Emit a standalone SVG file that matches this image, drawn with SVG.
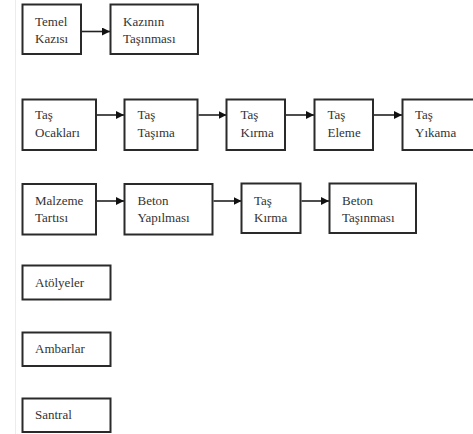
<svg xmlns="http://www.w3.org/2000/svg" width="473" height="434" viewBox="0 0 473 434">
<style>
.b{fill:#fff;stroke:#2a2a2a;stroke-width:2}
.t{font-family:'Liberation Serif','Times New Roman',serif;font-size:13px;fill:#333}
.c{stroke:#222;stroke-width:1.6;fill:none}
</style>
<defs>
<marker id="ah" markerWidth="8" markerHeight="8" refX="8" refY="4" orient="auto" markerUnits="userSpaceOnUse">
<path d="M0,0 L8,4 L0,8 Z" fill="#111"/>
</marker>
</defs>
<rect width="473" height="434" fill="#fff"/>
<line x1="15.5" y1="0" x2="15.5" y2="434" stroke="#ececec" stroke-width="1"/>
<g id="connectors">
<line class="c" x1="82" y1="31.5" x2="110" y2="31.5" marker-end="url(#ah)"/>
<line class="c" x1="97" y1="115" x2="124" y2="115" marker-end="url(#ah)"/>
<line class="c" x1="198.5" y1="115" x2="226.5" y2="115" marker-end="url(#ah)"/>
<line class="c" x1="286" y1="115" x2="314" y2="115" marker-end="url(#ah)"/>
<line class="c" x1="374" y1="115" x2="402" y2="115" marker-end="url(#ah)"/>
<line class="c" x1="97" y1="201" x2="124" y2="201" marker-end="url(#ah)"/>
<line class="c" x1="213.5" y1="201" x2="241.5" y2="201" marker-end="url(#ah)"/>
<line class="c" x1="301.5" y1="201" x2="329" y2="201" marker-end="url(#ah)"/>
</g>
<g id="n1"><rect class="b" x="22.5" y="4.5" width="58.5" height="49.5"/><text class="t" x="35" y="26">Temel</text><text class="t" x="35" y="43">Kazısı</text></g>
<g id="n2"><rect class="b" x="110.5" y="4.5" width="87.5" height="49.5"/><text class="t" x="123" y="26">Kazının</text><text class="t" x="123" y="43">Taşınması</text></g>
<g id="n3"><rect class="b" x="22.5" y="99.5" width="73.5" height="50.5"/><text class="t" x="35" y="119">Taş</text><text class="t" x="35" y="136.5">Ocakları</text></g>
<g id="n4"><rect class="b" x="124.5" y="99.5" width="73" height="50.5"/><text class="t" x="137.5" y="119">Taş</text><text class="t" x="137.5" y="136.5">Taşıma</text></g>
<g id="n5"><rect class="b" x="226.5" y="99.5" width="58.5" height="50.5"/><text class="t" x="240.5" y="119">Taş</text><text class="t" x="240.5" y="136.5">Kırma</text></g>
<g id="n6"><rect class="b" x="314.5" y="99.5" width="58.5" height="50.5"/><text class="t" x="327.5" y="119">Taş</text><text class="t" x="327.5" y="136.5">Eleme</text></g>
<g id="n7"><rect class="b" x="402.5" y="99.5" width="80" height="50.5"/><text class="t" x="415" y="119">Taş</text><text class="t" x="415" y="136.5">Yıkama</text></g>
<g id="n8"><rect class="b" x="22.5" y="184" width="73.5" height="50.5"/><text class="t" x="35" y="205">Malzeme</text><text class="t" x="35" y="222">Tartısı</text></g>
<g id="n9"><rect class="b" x="124.5" y="184" width="88" height="50.5"/><text class="t" x="137.5" y="205">Beton</text><text class="t" x="137.5" y="222">Yapılması</text></g>
<g id="n10"><rect class="b" x="241.5" y="183.5" width="59" height="49.5"/><text class="t" x="254" y="205">Taş</text><text class="t" x="254" y="222">Kırma</text></g>
<g id="n11"><rect class="b" x="329.5" y="183.5" width="86.5" height="49.5"/><text class="t" x="342" y="205">Beton</text><text class="t" x="342" y="222">Taşınması</text></g>
<g id="n12"><rect class="b" x="22.5" y="265.5" width="88" height="34"/><text class="t" x="35" y="287">Atölyeler</text></g>
<g id="n13"><rect class="b" x="22.5" y="332.5" width="88" height="33.5"/><text class="t" x="35" y="353">Ambarlar</text></g>
<g id="n14"><rect class="b" x="22.5" y="398.5" width="88" height="33.5"/><text class="t" x="35" y="419">Santral</text></g>
</svg>
